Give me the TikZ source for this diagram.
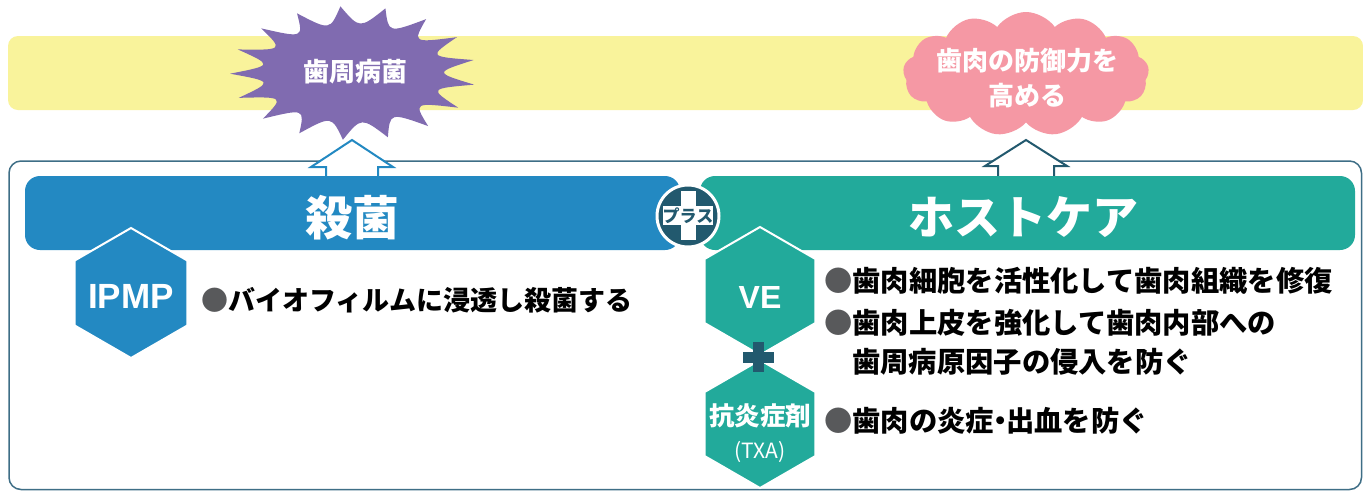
\documentclass[tikz,border=0pt]{standalone}
\usepackage{fontspec}
\setmainfont{Liberation Sans}
\newfontfamily\jp{Noto Sans CJK JP}
\usetikzlibrary{shapes.symbols,calc}
\definecolor{bandY}{HTML}{F9F39B}
\definecolor{germC}{HTML}{806BB0}
\definecolor{pinkC}{HTML}{F598A4}
\definecolor{blueC}{HTML}{2389C2}
\definecolor{tealC}{HTML}{22AA9B}
\definecolor{darkC}{HTML}{22596E}
\definecolor{frameC}{HTML}{3E6E86}
\definecolor{dotC}{HTML}{58595B}
\newcommand{\hexat}[3]{\filldraw[fill=#1, draw=white, line width=2pt]
  ($(#2)+(90:#3)$) -- ($(#2)+(150:#3)$) -- ($(#2)+(210:#3)$) --
  ($(#2)+(270:#3)$) -- ($(#2)+(330:#3)$) -- ($(#2)+(30:#3)$) -- cycle;}
\newcommand{\dotb}{\textcolor{dotC}{●}}
\tikzset{
  bar/.style={rectangle, rounded corners=15pt, minimum height=74pt, inner sep=0pt, text=white,
    font=\jp\bfseries\fontsize{47}{50}\selectfont},
  bullet/.style={anchor=west, inner sep=0pt, text=black, font=\jp\bfseries\fontsize{28.3}{32}\selectfont},
  openarrow/.style={fill=white, line width=2pt, line join=miter},
}
\begin{document}
\begin{tikzpicture}[x=1pt,y=-1pt]
\useasboundingbox (0,0) rectangle (1363,491);
\fill[white] (0,0) rectangle (1363,491);
% yellow band
\fill[bandY, rounded corners=10pt] (8,36) rectangle (1363,110);
% starburst
\fill[germC] ({353+123*cos(10)},{73+67*sin(10)})
  \foreach \k in {1,...,17}{ .. controls ({353+123*0.66*cos((\k-0.5)*360/17+10)},{73+67*0.66*sin((\k-0.5)*360/17+10)}) .. ({353+123*cos(\k*360/17+10)},{73+67*sin(\k*360/17+10)}) } -- cycle;
\node[text=white, font=\jp\bfseries\fontsize{26}{30}\selectfont, inner sep=0pt] (germ) at (355,72) {歯周病菌};
% cloud
\node[cloud, cloud puffs=13, cloud puff arc=110, aspect=2, cloud ignores aspect, fill=pinkC,
  minimum width=246pt, minimum height=124pt, inner sep=0pt] (gumcloud) at (1026,74) {};
\node[text=white, align=center, font=\jp\bfseries\fontsize{26}{35}\selectfont, inner sep=0pt] (gum) at (1027,78) {歯肉の防御力を\\高める};
% frame
\draw[frameC, line width=1.5pt, rounded corners=12pt] (9,161) rectangle (1361.5,489.5);
% arrows
\coordinate (tipL) at (352,140);
\coordinate (tipR) at (1026,140);
\draw[openarrow, draw=blueC] (tipL) -- ++(41,27) -- ++(-15,0) -- ++(0,12) -- ++(-52,0) -- ++(0,-12) -- ++(-15,0) -- cycle;
\draw[openarrow, draw=darkC] (tipR) -- ++(41,26) -- ++(-13,0) -- ++(0,13) -- ++(-56,0) -- ++(0,-13) -- ++(-13,0) -- cycle;
% bars
\fill[blueC, rounded corners=15pt] (25,176) rectangle (680,250);
\fill[tealC, rounded corners=15pt] (700,176) rectangle (1355,250);
\node[bar] (kill) at (352,218) {殺菌};
\node[bar, font=\jp\bfseries\fontsize{46}{50}\selectfont] (host) at (1023,217) {ホストケア};
% plus circle
\node[circle, fill=darkC, draw=white, line width=3pt, minimum size=62pt, inner sep=0pt] (plus) at (688,216) {};
\fill[white] ($(plus)+(-7.5,-25)$) rectangle ($(plus)+(7.5,24)$);
\fill[white] ($(plus)+(-25,-10)$) rectangle ($(plus)+(25,9)$);
\node[text=darkC, font=\jp\bfseries\fontsize{17}{18}\selectfont, inner sep=0pt] (plustxt) at ($(plus)+(0,-0.5)$) {プラス};
% hexagons
\coordinate (ipmpC) at (131,293);
\coordinate (veC) at (760,291);
\coordinate (txaC) at (760,424);
\hexat{blueC}{ipmpC}{65}
\hexat{tealC}{veC}{64}
\hexat{tealC}{txaC}{64}
% small plus between hexes
\coordinate (plus2) at (758,357);
\fill[darkC] ($(plus2)+(-5.5,-15)$) rectangle ($(plus2)+(5.5,15)$);
\fill[darkC] ($(plus2)+(-15.5,-5.5)$) rectangle ($(plus2)+(15.5,5.5)$);
% hex texts
\node[text=white, font=\bfseries\fontsize{35}{38}\selectfont, inner sep=0pt] (ipmp) at (131,296) {IPMP};
\node[text=white, font=\bfseries\fontsize{32}{36}\selectfont, inner sep=0pt] (ve) at (760,297) {VE};
\node[text=white, font=\jp\bfseries\fontsize{25.5}{28}\selectfont, inner sep=0pt] (txa) at (760,416) {抗炎症剤};
\node[text=white, font=\jp\fontsize{21}{24}\selectfont, inner sep=0pt] (txab) at (760,452) {(TXA)};
% bullet texts
\node[bullet, font=\jp\bfseries\fontsize{27}{32}\selectfont] (b0) at (201,300) {\dotb バイオフィルムに浸透し殺菌する};
\node[bullet] (b1) at (824,281) {\dotb 歯肉細胞を活性化して歯肉組織を修復};
\node[bullet] (b2) at (824,323) {\dotb 歯肉上皮を強化して歯肉内部への};
\node[bullet] (b3) at (852,362) {歯周病原因子の侵入を防ぐ};
\node[bullet] (b4) at (824,421) {\dotb 歯肉の炎症\kern-8pt・\kern-8pt出血を防ぐ};
\end{tikzpicture}
\end{document}
